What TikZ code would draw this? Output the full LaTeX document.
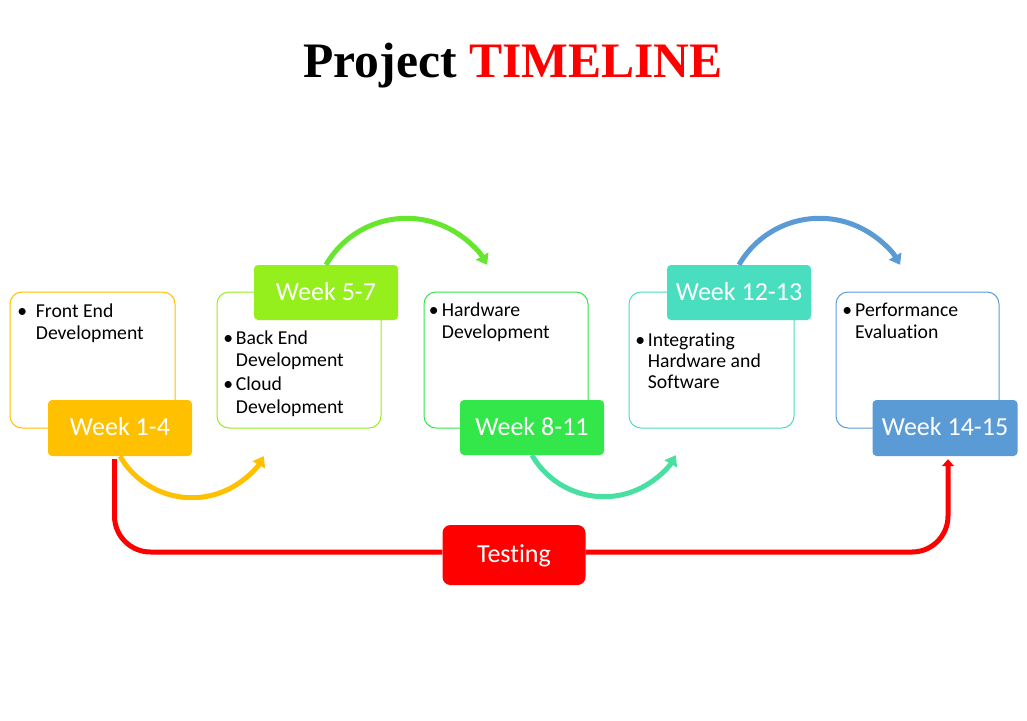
\documentclass[tikz,border=0pt]{standalone}
\usepackage{fontspec}
\setmainfont{Carlito}[Ligatures=NoCommon]
\newfontfamily\titlefont{Liberation Serif}
\usetikzlibrary{arrows.meta}
\definecolor{cOrange}{RGB}{255,192,0}
\definecolor{cLime}{RGB}{148,239,28}
\definecolor{cGreen}{RGB}{51,230,74}
\definecolor{cTeal}{RGB}{74,222,193}
\definecolor{cBlue}{RGB}{91,155,213}
\definecolor{cArcGreen}{RGB}{102,230,46}
\definecolor{cArcTeal}{RGB}{72,224,160}
\definecolor{cRed}{RGB}{255,0,0}
\newcommand\bb[1]{\makebox[10pt][c]{\textbullet}\rule{#1}{0pt}}
\tikzset{
  outline/.style={draw=#1, line width=1pt, rounded corners=12pt, fill=white,
    minimum height=136pt, inner sep=0pt},
  weekbox/.style={fill=#1, draw=none, rounded corners=4pt, text=white,
    minimum width=144pt, minimum height=55pt, inner sep=0pt,
    text height=15pt, text depth=0pt,
    font=\fontsize{26}{30}\selectfont},
  bodytext/.style={anchor=base west, inner sep=0pt, align=left,
    font=\fontsize{19.7}{22.5}\selectfont},
  arcline/.style={draw=#1, line width=5pt, -{Triangle[length=10pt,width=14pt]}},
  redline/.style={draw=cRed, line width=5pt, rounded corners=36pt}
}
\begin{document}
\begin{tikzpicture}[x=1pt, y=-1pt]
\useasboundingbox (0,0) rectangle (1027,720);
\fill[white] (0,0) rectangle (1027,720);

% title
\node[anchor=base, inner sep=0pt, font=\titlefont\bfseries\fontsize{49.6}{56}\selectfont]
  (title) at (513,77) {Project \textcolor{cRed}{TIMELINE}};

% outline boxes
\node[outline=cOrange, minimum width=165pt] (b1) at (92.5,360) {};
\node[outline=cLime,   minimum width=164pt] (b2) at (299,360) {};
\node[outline=cGreen,  minimum width=164pt] (b3) at (506,360) {};
\node[outline=cTeal,   minimum width=165pt] (b4) at (711.5,360) {};
\node[outline=cBlue,   minimum width=163pt] (b5) at (917.5,360) {};

% body texts
\node[bodytext] (t1) at (17,317) {\begin{tabular}[t]{@{}l@{}l@{}}\bb{8.7pt}&Front End\\ &Development\end{tabular}};
\node[bodytext] (t2) at (223,344) {\begin{tabular}[t]{@{}l@{}l@{}}\bb{2.7pt}&Back End\\ &Development\\[1.5pt] \bb{2.7pt}&Cloud\\ &Development\end{tabular}};
\node[bodytext] (t3) at (428.5,316) {\begin{tabular}[t]{@{}l@{}l@{}}\bb{3.2pt}&Hardware\\ &Development\end{tabular}};
\node[bodytext, font=\fontsize{19.7}{21}\selectfont] (t4) at (635,346.5) {\begin{tabular}[t]{@{}l@{}l@{}}\bb{2.7pt}&Integrating\\ &Hardware and\\ &Software\end{tabular}};
\node[bodytext] (t5) at (842,316) {\begin{tabular}[t]{@{}l@{}l@{}}\bb{3pt}&Performance\\ &Evaluation\end{tabular}};

% week labels
\node[weekbox=cOrange, minimum height=56pt] (w1) at (120,428) {Week 1-4};
\node[weekbox=cLime]  (w2) at (326,292.5) {Week 5-7};
\node[weekbox=cGreen] (w3) at (532,427.5) {Week 8-11};
\node[weekbox=cTeal]  (w4) at (739,292.5) {Week 12-13};
\node[weekbox=cBlue, minimum width=145pt, minimum height=56pt] (w5) at (945,428) {Week 14-15};

% testing
\node[weekbox=cRed, rounded corners=8pt, minimum width=143pt, minimum height=60pt] (test) at (514,555) {Testing};

% arcs
\draw[arcline=cOrange] (w1.south) arc[start angle=150, end angle=30, radius=83];
\draw[arcline=cArcGreen] (w2.north) arc[start angle=210, end angle=330, radius=93];
\draw[arcline=cArcTeal] (w3.south) arc[start angle=150, end angle=30, radius=83];
\draw[arcline=cBlue] (w4.north) arc[start angle=210, end angle=330, radius=93];

% testing line
\draw[redline] ([xshift=-5.5pt,yshift=-3pt]w1.south) |- ([yshift=3pt]test.west);
\draw[redline, -{Triangle[length=7pt,width=12pt]}] ([yshift=3pt]test.east) -| ([xshift=3pt,yshift=-3pt]w5.south);
\end{tikzpicture}
\end{document}
